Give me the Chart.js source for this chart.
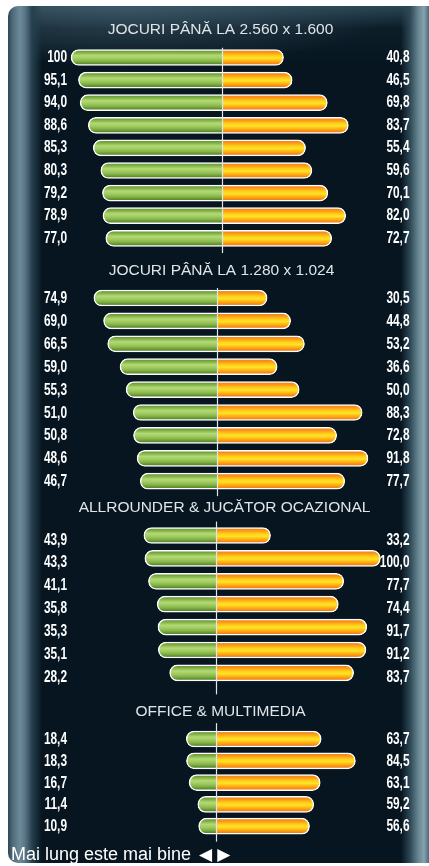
<!DOCTYPE html>
<html>
<head>
<meta charset="utf-8">
<script src="https://cdn.jsdelivr.net/npm/chart.js@4/dist/chart.umd.min.js"></script>
<style>
  html, body { margin: 0; padding: 0; }
  body { width: 429px; height: 866px; overflow: hidden; position: relative; background: #ffffff; }
  #panel {
    position: absolute; left: 8px; top: 6px; width: 421px; height: 857px;
    border-radius: 10px 0 0 10px;
    background:
      linear-gradient(90deg, #2c4656 0px, #526d7c 5px, #6c8a9a 12px, #5a7686 17px, #26404e 24px, rgba(8,24,33,0) 34px),
      linear-gradient(270deg, #4d6a79 0px, #86a1af 5px, #67838f 11px, #2c4755 19px, rgba(8,24,33,0) 28px),
      radial-gradient(ellipse 65% 60px at 28% 0%, rgba(72,100,116,0.6), rgba(8,24,33,0)),
      linear-gradient(180deg, #2a4555 0px, rgba(20,40,52,0.45) 22px, rgba(8,24,33,0) 60px),
      #061520;
  }
  canvas { position: absolute; left: 0; }
  #note {
    position: absolute; left: 11px; top: 844px; height: 20px; line-height: 20px;
    font: 18px "Liberation Sans", Arial, sans-serif; color: #ffffff; white-space: nowrap;
  }
  #note .arrows { font: 17px "DejaVu Sans", sans-serif; letter-spacing: 5px; margin-left: 8px; }
</style>
</head>
<body>
<div id="panel"></div>
<canvas id="chart1"></canvas>
<canvas id="chart2"></canvas>
<canvas id="chart3"></canvas>
<canvas id="chart4"></canvas>
<div id="note">Mai lung este mai bine<span class="arrows">◀▶</span></div>
<script>
// Section headings
const sectionTitles = [
  'JOCURI PÂNĂ LA 2.560 x 1.600',
  'JOCURI PÂNĂ LA 1.280 x 1.024',
  'ALLROUNDER & JUCĂTOR OCAZIONAL',
  'OFFICE & MULTIMEDIA'
];

// Left (green) and right (orange) scores per section, top row first
const greenHighRes   = [100, 95.1, 94.0, 88.6, 85.3, 80.3, 79.2, 78.9, 77.0];
const orangeHighRes  = [40.8, 46.5, 69.8, 83.7, 55.4, 59.6, 70.1, 82.0, 72.7];

const greenMidRes    = [74.9, 69.0, 66.5, 59.0, 55.3, 51.0, 50.8, 48.6, 46.7];
const orangeMidRes   = [30.5, 44.8, 53.2, 36.6, 50.0, 88.3, 72.8, 91.8, 77.7];

const greenAllround  = [43.9, 43.3, 41.1, 35.8, 35.3, 35.1, 28.2];
const orangeAllround = [33.2, 100.0, 77.7, 74.4, 91.7, 91.2, 83.7];

const greenOffice    = [18.4, 18.3, 16.7, 11.4, 10.9];
const orangeOffice   = [63.7, 84.5, 63.1, 59.2, 56.6];

const greenSeries  = [greenHighRes, greenMidRes, greenAllround, greenOffice];
const orangeSeries = [orangeHighRes, orangeMidRes, orangeAllround, orangeOffice];

// Placement of each block on the page
const blockLayout = [
  { zeroX: 222,   pxPerUnit: 1.51,  firstRow: 57.5,  pitch: 22.6, labelShift: 0,   lineUp: -1.5, lineDown: 3.5, titleShift: 0 },
  { zeroX: 217,   pxPerUnit: 1.645, firstRow: 298,   pitch: 22.9, labelShift: 0.5, lineUp: -1.5, lineDown: 3.5, titleShift: 1 },
  { zeroX: 216,   pxPerUnit: 1.645, firstRow: 535.5, pitch: 22.9, labelShift: 4.5, lineUp: 2.5,  lineDown: 10,  titleShift: 4 },
  { zeroX: 216.5, pxPerUnit: 1.645, firstRow: 739,   pitch: 21.8, labelShift: 0.5, lineUp: 5,    lineDown: 4.5, titleShift: 0 }
];

const PAGE_W = 429;
const PAD_LEFT = 20, PAD_RIGHT = 8;
const TITLE_LINE = 18, TITLE_GAP = 7;
const BAR_H = 16;
const LEFT_LABEL_X = 67, RIGHT_LABEL_X = 409.5;

const greenStops = [
  [0, '#5a8a2e'], [0.18, '#7eae42'], [0.38, '#b3d976'], [0.55, '#a2cc62'],
  [0.72, '#86b548'], [0.88, '#5f8f31'], [1, '#4a7726']
];
const orangeStops = [
  [0, '#ee7420'], [0.2, '#fb9a16'], [0.4, '#ffd21a'], [0.55, '#ffe22a'],
  [0.72, '#ffb20e'], [0.88, '#f6861a'], [1, '#e86a1c']
];

// Vertical gradient across one bar row, placed from the category band it sits in
function barFill(stops) {
  return (ctx) => {
    const chart = ctx.chart;
    const area = chart.chartArea;
    const rows = chart.data.labels.length;
    if (ctx.type !== 'data' || !area || !isFinite(area.top) || area.height <= 0) return stops[3][1];
    const band = area.height / rows;
    const yc = area.top + (ctx.dataIndex + 0.5) * band;
    if (!isFinite(yc)) return stops[3][1];
    const g = chart.ctx.createLinearGradient(0, yc - BAR_H / 2, 0, yc + BAR_H / 2);
    stops.forEach(([o, c]) => g.addColorStop(o, c));
    return g;
  };
}

function formatValue(v, side) {
  if (side === 'left' && v >= 100) return String(Math.round(v));
  return v.toFixed(1).replace('.', ',');
}

function drawCondensed(ctx, text, x, y) {
  ctx.save();
  ctx.translate(x, y);
  ctx.scale(0.72, 1);
  ctx.fillText(text, 0, 0);
  ctx.restore();
}

function makeDecor(green, orange, lay) {
  return {
    id: 'decor',
    afterDatasetsDraw(chart) {
      const { ctx, chartArea, scales: { x, y } } = chart;
      // centre divider
      const x0 = Math.round(x.getPixelForValue(0)) + 0.5;
      ctx.save();
      ctx.strokeStyle = '#dfe5e8';
      ctx.lineWidth = 1.2;
      ctx.beginPath();
      ctx.moveTo(x0, chartArea.top - lay.lineUp);
      ctx.lineTo(x0, chartArea.bottom + lay.lineDown);
      ctx.stroke();
      // value labels at both sides
      ctx.fillStyle = '#ffffff';
      ctx.font = 'bold 16.5px "Liberation Sans", Arial, sans-serif';
      ctx.textAlign = 'right';
      ctx.textBaseline = 'middle';
      green.forEach((v, i) => {
        drawCondensed(ctx, formatValue(v, 'left'), LEFT_LABEL_X, y.getPixelForValue(i) + lay.labelShift);
      });
      orange.forEach((v, i) => {
        drawCondensed(ctx, formatValue(v, 'right'), RIGHT_LABEL_X, y.getPixelForValue(i) + lay.labelShift);
      });
      ctx.restore();
    }
  };
}

sectionTitles.forEach((title, s) => {
  const green = greenSeries[s];
  const orange = orangeSeries[s];
  const lay = blockLayout[s];
  const rows = green.length;
  const categories = green.map((_, i) => String(i + 1));

  const areaTop = lay.firstRow - lay.pitch / 2;
  const areaBottom = areaTop + rows * lay.pitch;
  const canvasTop = Math.floor(areaTop - TITLE_LINE - TITLE_GAP - 1);
  const padTop = areaTop - TITLE_LINE - TITLE_GAP - canvasTop;
  const canvasBottom = Math.ceil(areaBottom + 14);
  const padBottom = canvasBottom - areaBottom;

  const canvas = document.getElementById('chart' + (s + 1));
  canvas.width = PAGE_W;
  canvas.height = canvasBottom - canvasTop;
  canvas.style.top = canvasTop + 'px';
  canvas.style.width = PAGE_W + 'px';
  canvas.style.height = (canvasBottom - canvasTop) + 'px';

  // title centre follows the padding balance; chart area edges then set the x range
  const padL = PAD_LEFT + lay.titleShift;
  const padR = PAD_RIGHT - lay.titleShift;
  const xMin = -(lay.zeroX - padL) / lay.pxPerUnit;
  const xMax = (PAGE_W - padR - lay.zeroX) / lay.pxPerUnit;

  const common = {
    barThickness: BAR_H,
    borderColor: '#ffffff',
    borderWidth: 1.5,
    borderRadius: 10,
    borderSkipped: 'start',
    grouped: false
  };

  new Chart(canvas, {
    type: 'bar',
    data: {
      labels: categories,
      datasets: [
        Object.assign({ label: 'left', data: green.map(v => -v), backgroundColor: barFill(greenStops) }, common),
        Object.assign({ label: 'right', data: orange, backgroundColor: barFill(orangeStops) }, common)
      ]
    },
    options: {
      indexAxis: 'y',
      responsive: false,
      animation: false,
      events: [],
      layout: { padding: { left: padL, right: padR, top: padTop, bottom: padBottom } },
      plugins: {
        legend: { display: false },
        tooltip: { enabled: false },
        title: {
          display: true,
          text: title,
          color: '#dfe5e8',
          font: { family: '"Liberation Sans", Arial, sans-serif', size: 15.5, weight: 'normal', lineHeight: TITLE_LINE / 15.5 },
          padding: { top: 0, bottom: TITLE_GAP }
        }
      },
      scales: {
        x: { type: 'linear', min: xMin, max: xMax, display: false },
        y: { type: 'category', offset: true, display: false }
      }
    },
    plugins: [makeDecor(green, orange, lay)]
  });
});
</script>
</body>
</html>
